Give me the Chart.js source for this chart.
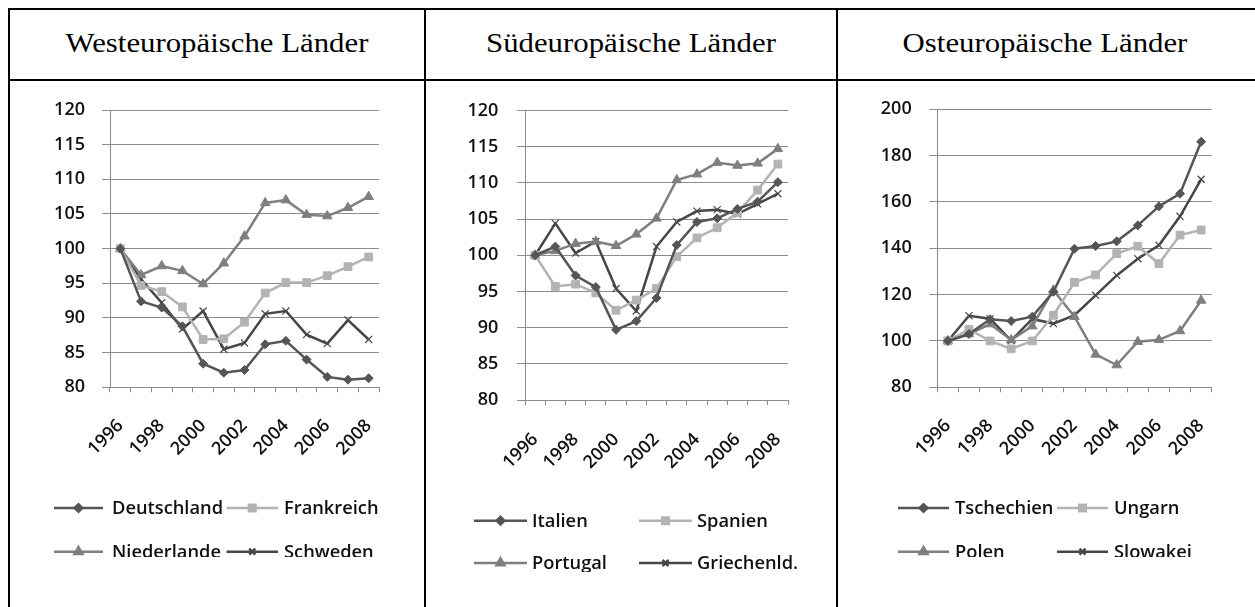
<!DOCTYPE html>
<html>
<head>
<meta charset="utf-8">
<script src="https://cdn.jsdelivr.net/npm/chart.js@4.4.1/dist/chart.umd.min.js"></script>
<style>
    body { margin: 0; background: #fff; width: 1255px; height: 607px; overflow: hidden; position: relative; }
    .rule { position: absolute; background: #000; }
    .title { position: absolute; top: 27px; height: 32px; line-height: 32px; font-family: "Liberation Serif", "Times New Roman", serif; font-size: 28px; color: #000; text-align: center; white-space: nowrap; transform: scaleX(1.1); }
    .box { position: absolute; overflow: hidden; }
    .box canvas { display: block; }
</style>
</head>
<body>
<!-- table frame -->
<div class="rule" style="left:8px; top:8px; width:1247px; height:2px;"></div>
<div class="rule" style="left:8px; top:79px; width:1247px; height:2px;"></div>
<div class="rule" style="left:8px; top:8px; width:2px; height:599px;"></div>
<div class="rule" style="left:424px; top:8px; width:2px; height:599px;"></div>
<div class="rule" style="left:836px; top:8px; width:2px; height:599px;"></div>

<div class="title" style="left:10px; width:414px;">Westeuropäische Länder</div>
<div class="title" style="left:426px; width:410px;">Südeuropäische Länder</div>
<div class="title" style="left:838px; width:414px;">Osteuropäische Länder</div>

<div class="box" style="left:40px; top:75px; width:379px; height:482px;"><canvas id="west"></canvas></div>
<div class="box" style="left:440px; top:75px; width:388px; height:497px;"><canvas id="south"></canvas></div>
<div class="box" style="left:850px; top:75px; width:402px; height:482px;"><canvas id="east"></canvas></div>

<script>
// Categories
const years = ['1996', '1997', '1998', '1999', '2000', '2001', '2002', '2003', '2004', '2005', '2006', '2007', '2008'];

// Westeuropa
const deutschland = [100, 92.4, 91.5, 88.8, 83.4, 82.1, 82.5, 86.2, 86.7, 84.0, 81.5, 81.1, 81.3];
const frankreich = [100, 94.7, 93.8, 91.6, 86.9, 87.0, 89.4, 93.6, 95.1, 95.1, 96.1, 97.4, 98.8];
const niederlande = [100, 96.2, 97.5, 96.8, 94.9, 97.9, 101.8, 106.6, 107.0, 104.9, 104.7, 105.9, 107.5];
const schweden = [100, 95.6, 92.2, 88.4, 91.0, 85.5, 86.4, 90.6, 91.0, 87.6, 86.3, 89.7, 86.9];

// Suedeuropa
const italien = [100, 101.2, 97.2, 95.6, 89.7, 90.9, 94.1, 101.4, 104.6, 105.1, 106.4, 107.4, 110.1];
const spanien = [100, 95.7, 96.0, 94.8, 92.4, 93.8, 95.4, 99.8, 102.4, 103.8, 105.9, 109.0, 112.6];
const portugal = [100, 100.6, 101.6, 101.9, 101.3, 102.9, 105.1, 110.4, 111.2, 112.8, 112.4, 112.7, 114.7];
const griechenland = [100, 104.4, 100.3, 101.9, 95.4, 92.3, 101.2, 104.6, 106.1, 106.3, 105.7, 107.1, 108.5];

// Osteuropa
const tschechien = [100, 103.0, 109.4, 108.6, 110.5, 121.2, 139.8, 141.0, 143.0, 149.9, 158.1, 163.6, 186.0];
const ungarn = [100, 105.0, 100.0, 96.6, 100.0, 111.1, 125.3, 128.5, 137.7, 140.9, 133.4, 145.7, 147.9];
const polen = [100, 103.0, 107.3, 100.4, 106.4, 121.9, 110.5, 94.2, 89.6, 99.7, 100.5, 104.3, 117.5];
const slowakei = [100, 110.9, 109.6, 100.2, 109.5, 107.5, 111.1, 119.7, 128.3, 135.5, 141.3, 153.8, 169.8];

// Series names
const westNames = ['Deutschland', 'Frankreich', 'Niederlande', 'Schweden'];
const southNames = ['Italien', 'Spanien', 'Portugal', 'Griechenld.'];
const eastNames = ['Tschechien', 'Ungarn', 'Polen', 'Slowakei'];

Chart.defaults.font.family = '"Open Sans", sans-serif';
Chart.defaults.font.size = 18;
Chart.defaults.font.weight = '600';
Chart.defaults.color = '#111';

// Excel-like series styles: dark diamond, light square, mid triangle, dark cross
const styles = [
    { color: '#555555', point: 'rectRot', radius: 4.5 },
    { color: '#b3b3b3', point: 'rect', radius: 5.5 },
    { color: '#7f7f7f', point: 'triangle', radius: 5.5 },
    { color: '#474747', point: 'crossRot', radius: 5 }
];

function makeDatasets(names, series) {
    return names.map((name, i) => ({
        label: name,
        data: series[i],
        borderColor: styles[i].color,
        backgroundColor: styles[i].color,
        borderWidth: 2.5,
        pointStyle: styles[i].point,
        pointRadius: styles[i].radius,
        pointBorderWidth: i === 3 ? 1.2 : 1,
        pointBackgroundColor: styles[i].color,
        pointBorderColor: styles[i].color,
        tension: 0,
        fill: false
    }));
}

// Draw legend rows (line sample + marker + text) at given positions
const excelLegend = {
    id: 'excelLegend',
    afterDraw(chart, args, opts) {
        const ctx = chart.ctx;
        ctx.save();
        chart.data.datasets.forEach((ds, i) => {
            const item = opts.items[i];
            ctx.strokeStyle = ds.borderColor;
            ctx.fillStyle = ds.borderColor;
            ctx.lineWidth = 2.5;
            ctx.beginPath();
            ctx.moveTo(item.x0, item.y);
            ctx.lineTo(item.x1, item.y);
            ctx.stroke();
            Chart.helpers.drawPoint(ctx, {
                pointStyle: ds.pointStyle,
                radius: ds.pointRadius * 0.85,
                borderWidth: ds.pointBorderWidth,
                rotation: 0
            }, (item.x0 + item.x1) / 2, item.y);
            ctx.fillStyle = '#111';
            ctx.font = '600 18.3px "Open Sans", sans-serif';
            ctx.textBaseline = 'middle';
            ctx.textAlign = 'left';
            ctx.fillText(ds.label, item.tx, item.y + 1);
        });
        ctx.restore();
    }
};

function makeChart(id, datasets, cfg) {
    const ctx = document.getElementById(id).getContext('2d');
    return new Chart(ctx, {
        type: 'line',
        data: { labels: years, datasets: datasets },
        plugins: [excelLegend],
        options: {
            responsive: true,
            maintainAspectRatio: false,
            animation: false,
            layout: { padding: cfg.padding },
            plugins: {
                legend: { display: false },
                tooltip: { enabled: false },
                excelLegend: { items: cfg.legend }
            },
            scales: {
                x: {
                    offset: true,
                    grid: { display: true, drawOnChartArea: false, drawTicks: true, tickLength: 5, offset: true, color: '#8c8c8c' },
                    border: { display: true, color: '#8c8c8c' },
                    ticks: {
                        autoSkip: false,
                        minRotation: 45,
                        maxRotation: 45,
                        padding: cfg.xPad,
                        callback: function(value, index) {
                            return index % 2 === 0 ? years[index] : '';
                        }
                    },
                    afterFit: function(scale) { scale.height = 85; }
                },
                y: {
                    min: cfg.min,
                    max: cfg.max,
                    grid: { color: '#8c8c8c', tickLength: 8, lineWidth: 1 },
                    border: { display: true, color: '#8c8c8c' },
                    ticks: { stepSize: cfg.step, padding: cfg.yPad },
                    afterFit: function(scale) { scale.width = cfg.yWidth; }
                }
            }
        }
    });
}

makeChart('west', makeDatasets(westNames, [deutschland, frankreich, niederlande, schweden]), {
    min: 80, max: 120, step: 5, yWidth: 70, yPad: 17, xPad: 23,
    padding: { left: 0, right: 40, top: 35, bottom: 84.7 },
    legend: [
        { x0: 14, x1: 63, tx: 72, y: 433 },
        { x0: 186.5, x1: 238, tx: 244, y: 433 },
        { x0: 14, x1: 63, tx: 72, y: 476.7 },
        { x0: 186.5, x1: 238, tx: 244, y: 476.7 }
    ]
});

makeChart('south', makeDatasets(southNames, [italien, spanien, portugal, griechenland]), {
    min: 80, max: 120, step: 5, yWidth: 85, yPad: 18.7, xPad: 24,
    padding: { left: 0, right: 40, top: 35.5, bottom: 87 },
    legend: [
        { x0: 34, x1: 87, tx: 92, y: 445.7 },
        { x0: 199, x1: 252, tx: 257, y: 445.7 },
        { x0: 34, x1: 87, tx: 92, y: 488 },
        { x0: 199, x1: 252, tx: 257, y: 488 }
    ]
});

makeChart('east', makeDatasets(eastNames, [tschechien, ungarn, polen, slowakei]), {
    min: 80, max: 200, step: 20, yWidth: 87.3, yPad: 17.6, xPad: 23,
    padding: { left: 0, right: 40.3, top: 34.3, bottom: 84.7 },
    legend: [
        { x0: 48, x1: 99, tx: 105, y: 433 },
        { x0: 207, x1: 258, tx: 264, y: 433 },
        { x0: 48, x1: 99, tx: 105, y: 476.7 },
        { x0: 207, x1: 258, tx: 264, y: 476.7 }
    ]
});
</script>
</body>
</html>
